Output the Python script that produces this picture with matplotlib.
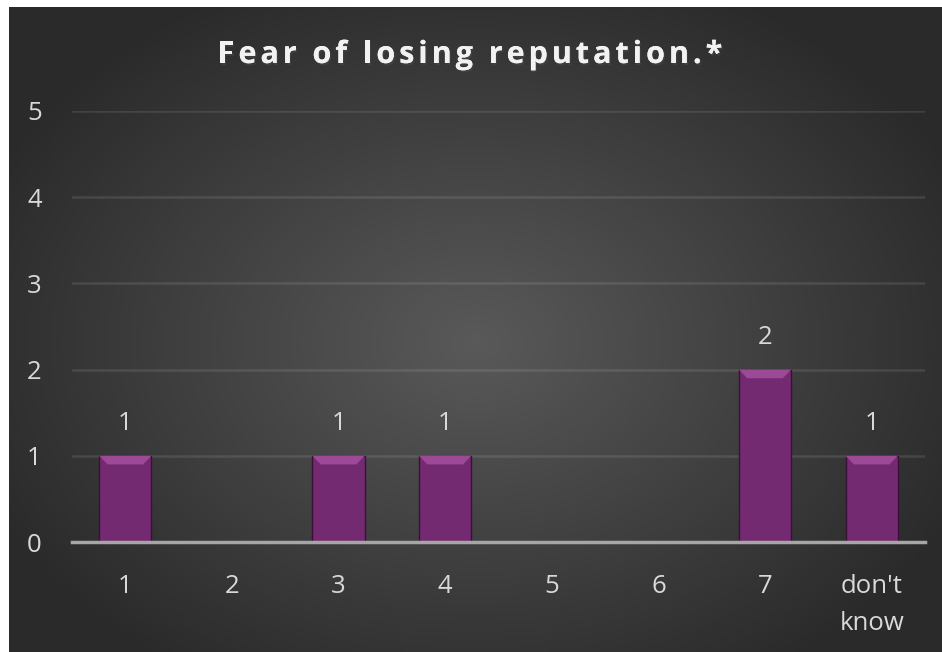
import numpy as np
import matplotlib.pyplot as plt
import matplotlib.patheffects as pe
from matplotlib.patches import Polygon

categories = ["1", "2", "3", "4", "5", "6", "7", "don't\nknow"]
counts = [1, 0, 1, 1, 0, 0, 2, 1]
title = "Fear of losing reputation.*"

plt.rcParams['font.family'] = ['Open Sans', 'DejaVu Sans']

fig = plt.figure(figsize=(9.42, 6.52), dpi=100)
fig.patch.set_facecolor('white')

# dark radial background (white strip on left/top like the screenshot)
bg = fig.add_axes([9 / 942, 0, 1 - 9 / 942, 1 - 7 / 652])
yy, xx = np.mgrid[0:1:300j, 0:1:400j]
r = np.sqrt(((xx - 0.5) / 0.75) ** 2 + ((yy - 0.52) / 0.8) ** 2)
shade = np.clip(0.35 - 0.24 * r, 0.165, 0.35)
bg.imshow(np.dstack([shade, shade, shade]), aspect='auto', extent=[0, 1, 0, 1])
bg.set_axis_off()

ax = fig.add_axes([72 / 942, 110 / 652, (925 - 72) / 942, (542 - 111) / 652])
ax.set_facecolor('none')
x = np.arange(len(categories))
bars = ax.bar(x, counts, width=0.49, color='#742a70', edgecolor='#3a1038',
              linewidth=1, zorder=3)

for b, v in zip(bars, counts):
    if v == 0:
        continue
    x0, w = b.get_x(), b.get_width()
    d = 0.1
    bevel = Polygon([(x0, v), (x0 + w, v), (x0 + w - w * 0.16, v - d),
                     (x0 + w * 0.16, v - d)], closed=True,
                    facecolor='#9c4a98', edgecolor='none', zorder=4)
    ax.add_patch(bevel)
    ax.text(x0 + w / 2, v + 0.37, str(v), ha='center', va='center',
            color='#d9d9d9', fontsize=18.5, zorder=5)

ax.set_xlim(-0.5, len(categories) - 0.5)
ax.set_ylim(0, 5)
ax.set_yticks(range(0, 6))
ax.set_xticks(x)
ax.set_xticklabels(categories, linespacing=1.65)
ax.tick_params(axis='both', length=0, colors='#d9d9d9', labelsize=18.5)
ax.tick_params(axis='x', pad=23)
ax.tick_params(axis='y', pad=27)
for lab in ax.get_yticklabels():
    lab.set_horizontalalignment('center')
ax.grid(axis='y', color='white', alpha=0.1, linewidth=1.8, zorder=0)
for s in ['top', 'right', 'left']:
    ax.spines[s].set_visible(False)
ax.spines['bottom'].set_color('#a6a6a6')
ax.spines['bottom'].set_linewidth(2.5)
ax.spines['bottom'].set_zorder(6)

# title with extra letter spacing, placed char by char
renderer = fig.canvas.get_renderer()
tkw = dict(color='#f2f2f2', fontsize=22, fontweight='bold', va='baseline',
           path_effects=[pe.withSimplePatchShadow(offset=(1, -1.5), alpha=0.5),
                         pe.Normal()])
spacing = 4.0
pieces = [fig.text(0, 1 - 63 / 652, ch, **tkw) for ch in title]
widths = []
for t, ch in zip(pieces, title):
    if ch == ' ':
        probe = fig.text(0, 0, 'a a', **tkw)
        wa = fig.text(0, 0, 'aa', **tkw)
        widths.append(probe.get_window_extent(renderer).width
                      - wa.get_window_extent(renderer).width)
        probe.remove()
        wa.remove()
    else:
        widths.append(t.get_window_extent(renderer).width)
total = sum(widths) + spacing * (len(title) - 1)
xpos = 470 - total / 2
for t, wdt in zip(pieces, widths):
    t.set_x(xpos / 942)
    xpos += wdt + spacing

fig.savefig('out.png', dpi=100)
